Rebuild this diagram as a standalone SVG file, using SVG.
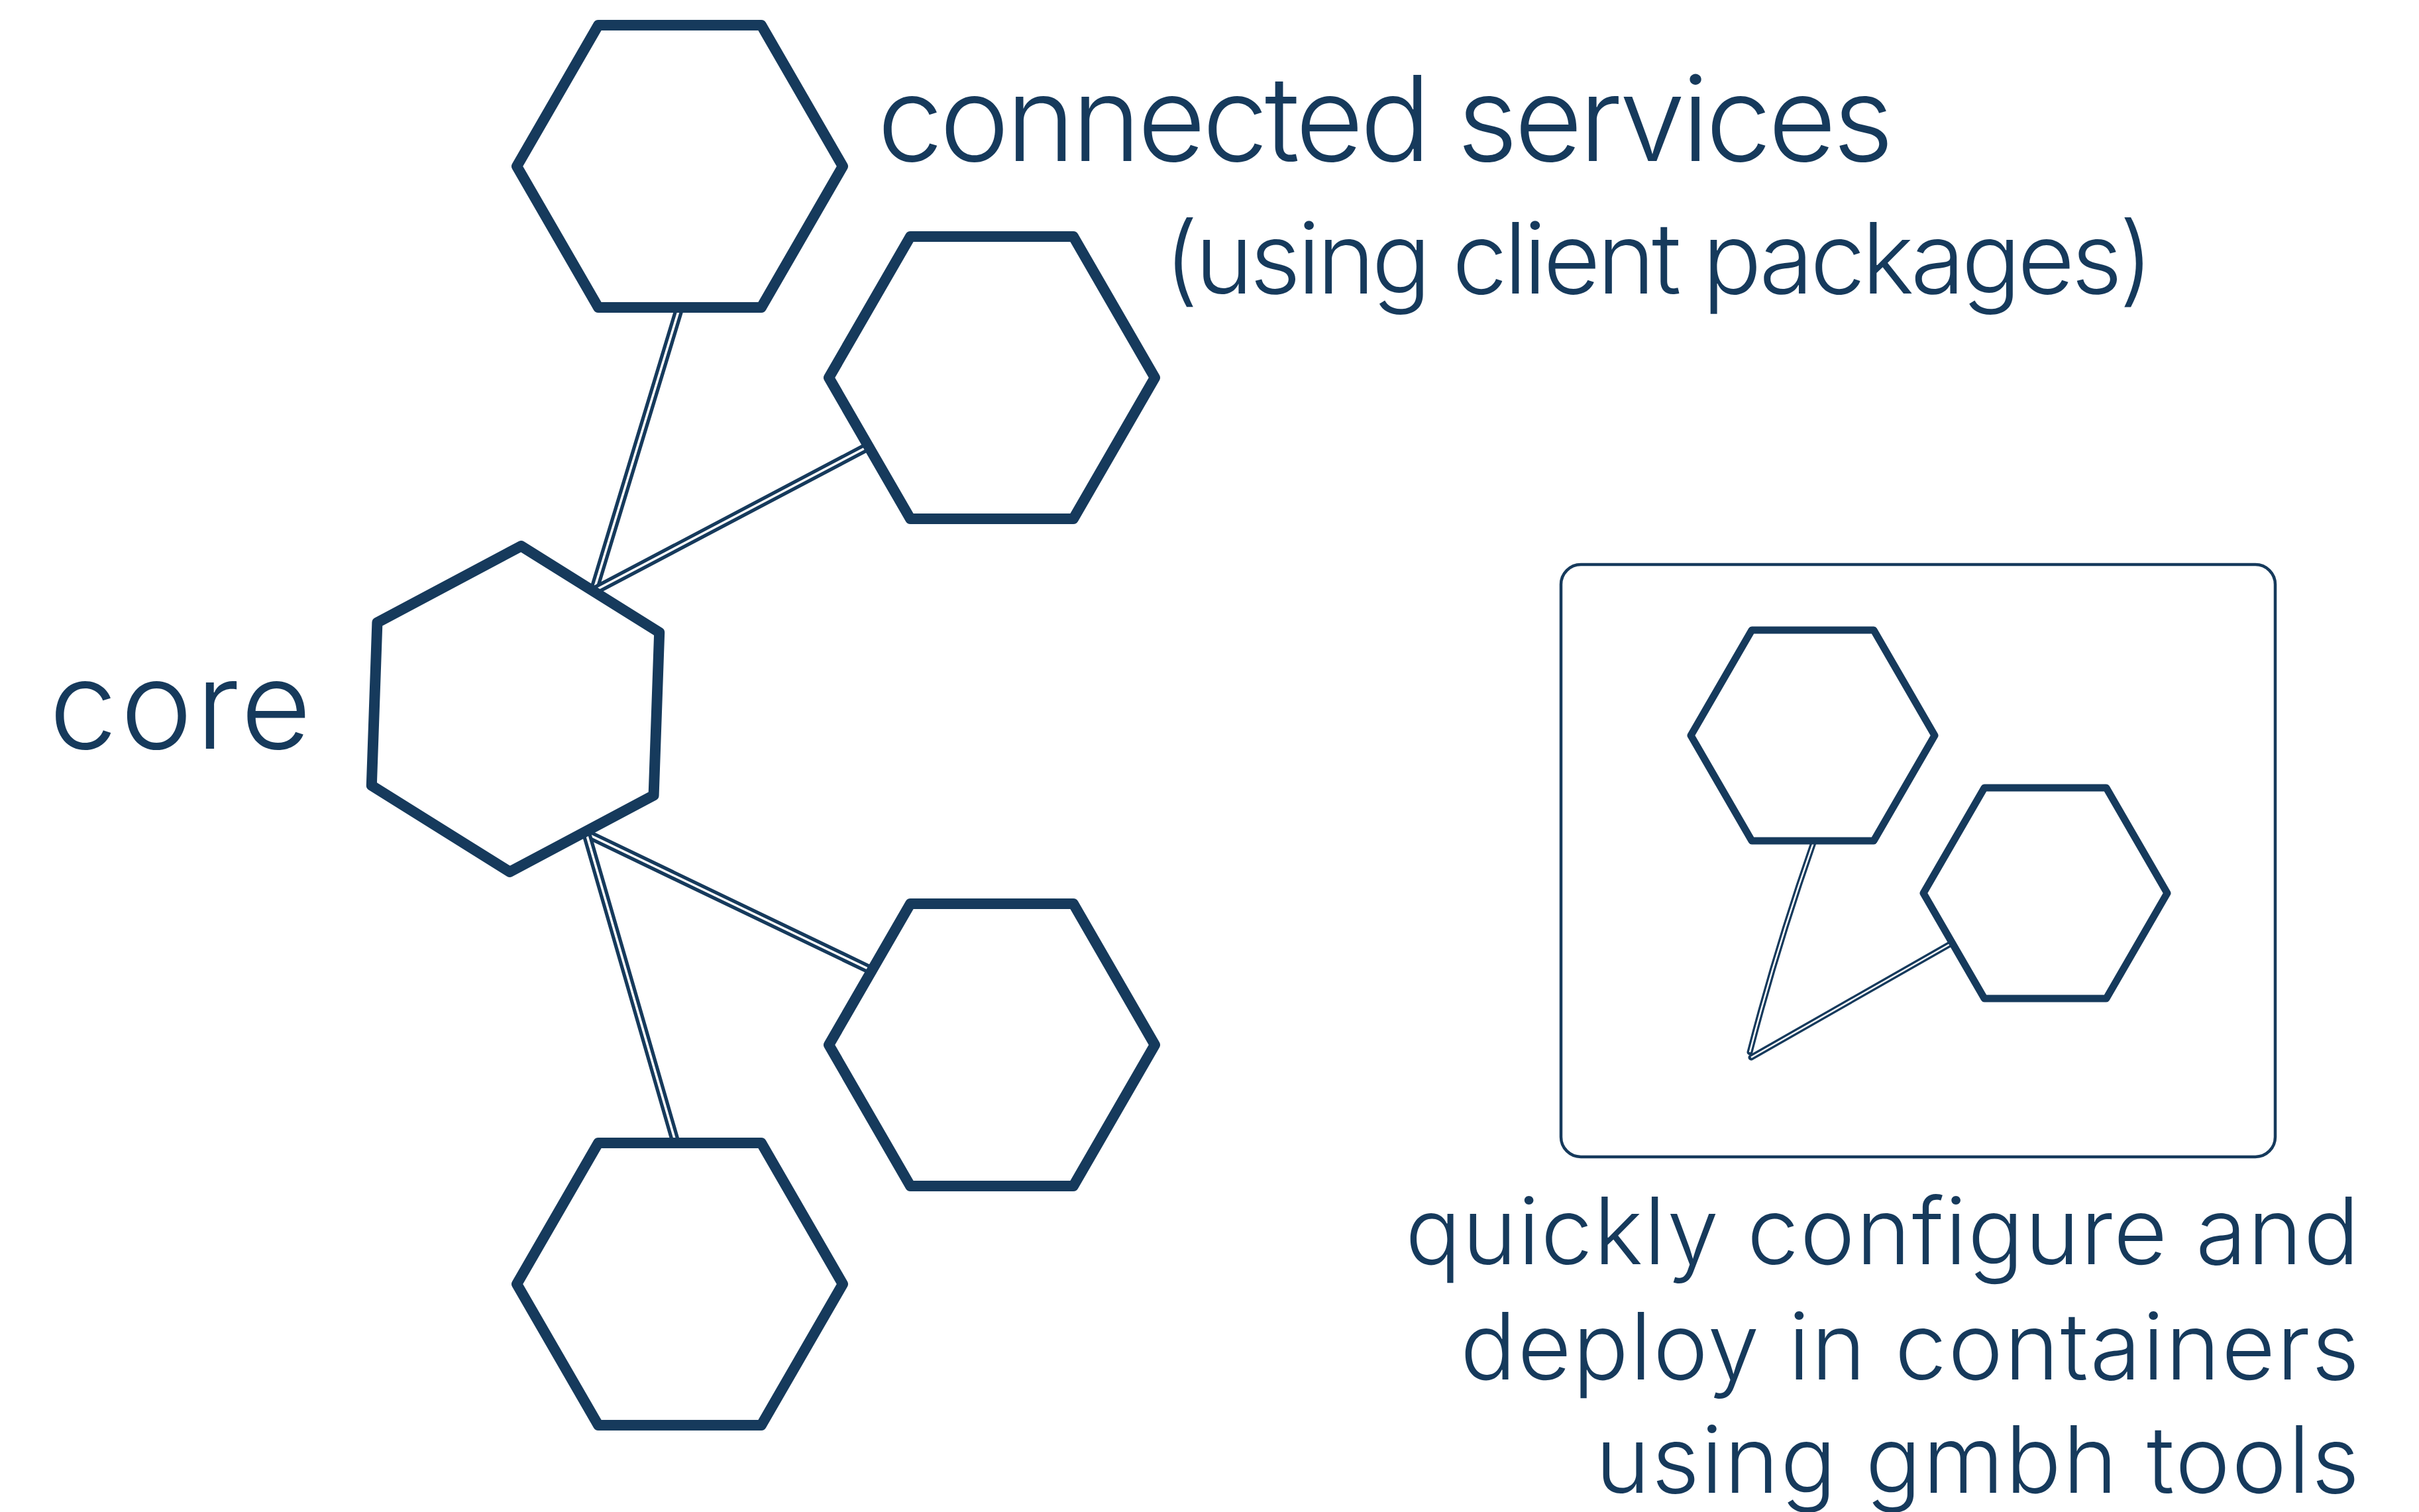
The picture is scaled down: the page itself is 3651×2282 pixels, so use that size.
<svg xmlns="http://www.w3.org/2000/svg" width="3651" height="2282" viewBox="0 0 3651 2282">
  <style>
    .hex { fill: #ffffff; stroke: #163a5c; stroke-width: 16; stroke-linejoin: round; }
    .hexs { fill: #ffffff; stroke: #163a5c; stroke-width: 11; stroke-linejoin: round; }
    .conn-o { fill: none; stroke: #163a5c; stroke-width: 14; stroke-linecap: round; }
    .conn-i { fill: none; stroke: #ffffff; stroke-width: 3.5; stroke-linecap: butt; }
    .sconn-o { fill: none; stroke: #163a5c; stroke-width: 9; stroke-linecap: round; }
    .sconn-i { fill: none; stroke: #ffffff; stroke-width: 2.5; stroke-linecap: butt; }
    .box { fill: #ffffff; stroke: #163a5c; stroke-width: 4.5; }
    .lbl { fill: #163a5c; font-family: Inter, "Noto Sans", "Liberation Sans", sans-serif; font-weight: 300; }
  </style>
  <rect x="0" y="0" width="3651" height="2282" fill="#ffffff"/>

  <g id="container-box">
    <rect class="box" x="2356" y="852" width="1078" height="894" rx="30" ry="30"/>
  </g>

  <g id="connectors">
    <path class="conn-o" d="M896,892 L1024,470"/>
    <path class="conn-i" d="M896,892 L1024,470"/>
    <path class="conn-o" d="M896,892 L1310,674"/>
    <path class="conn-i" d="M896,892 L1310,674"/>
    <path class="conn-o" d="M885,1258 L1314,1464"/>
    <path class="conn-i" d="M885,1258 L1314,1464"/>
    <path class="conn-o" d="M885,1258 L1020,1725"/>
    <path class="conn-i" d="M885,1258 L1020,1725"/>
    <path class="sconn-o" d="M2738,1269 Q2681,1432 2641,1588"/>
    <path class="sconn-i" d="M2738,1269 Q2681,1432 2641,1588"/>
    <path class="sconn-o" d="M2643,1596 L2943,1425"/>
    <path class="sconn-i" d="M2643,1596 L2943,1425"/>
  </g>

  <g id="core">
    <polygon class="hex" points="786.6,824.1 995.2,954.5 986.6,1200.4 769.4,1315.9 560.8,1185.5 569.4,939.6"/>
  </g>
  <g id="service-1">
    <polygon class="hex" points="780,251 903,38 1149,38 1272,251 1149,464 903,464"/>
  </g>
  <g id="service-2">
    <polygon class="hex" points="1251,570 1374,357 1620,357 1743,570 1620,783 1374,783"/>
  </g>
  <g id="service-3">
    <polygon class="hex" points="1251,1577 1374,1364 1620,1364 1743,1577 1620,1790 1374,1790"/>
  </g>
  <g id="service-4">
    <polygon class="hex" points="780,1938 903,1725 1149,1725 1272,1938 1149,2151 903,2151"/>
  </g>
  <g id="container-1">
    <polygon class="hexs" points="2552,1110 2644,951 2828,951 2920,1110 2828,1269 2644,1269"/>
  </g>
  <g id="container-2">
    <polygon class="hexs" points="2903,1348 2995,1189 3179,1189 3271,1348 3179,1507 2995,1507"/>
  </g>

  <g id="labels">
    <text class="lbl" x="74" y="1130" font-size="184" textLength="396" lengthAdjust="spacing">core</text>
    <text class="lbl" x="1324" y="243" font-size="178" textLength="1534" lengthAdjust="spacing">connected services</text>
    <text class="lbl" x="1757" y="443" font-size="149" textLength="1493" lengthAdjust="spacing">(using client packages)</text>
    <text class="lbl" x="3561" y="1908" font-size="140" text-anchor="end" textLength="1440" lengthAdjust="spacing">quickly configure and</text>
    <text class="lbl" x="3561" y="2082" font-size="140" text-anchor="end" textLength="1357" lengthAdjust="spacing">deploy in containers</text>
    <text class="lbl" x="3561" y="2253" font-size="140" text-anchor="end" textLength="1153" lengthAdjust="spacing">using gmbh tools</text>
  </g>
</svg>
